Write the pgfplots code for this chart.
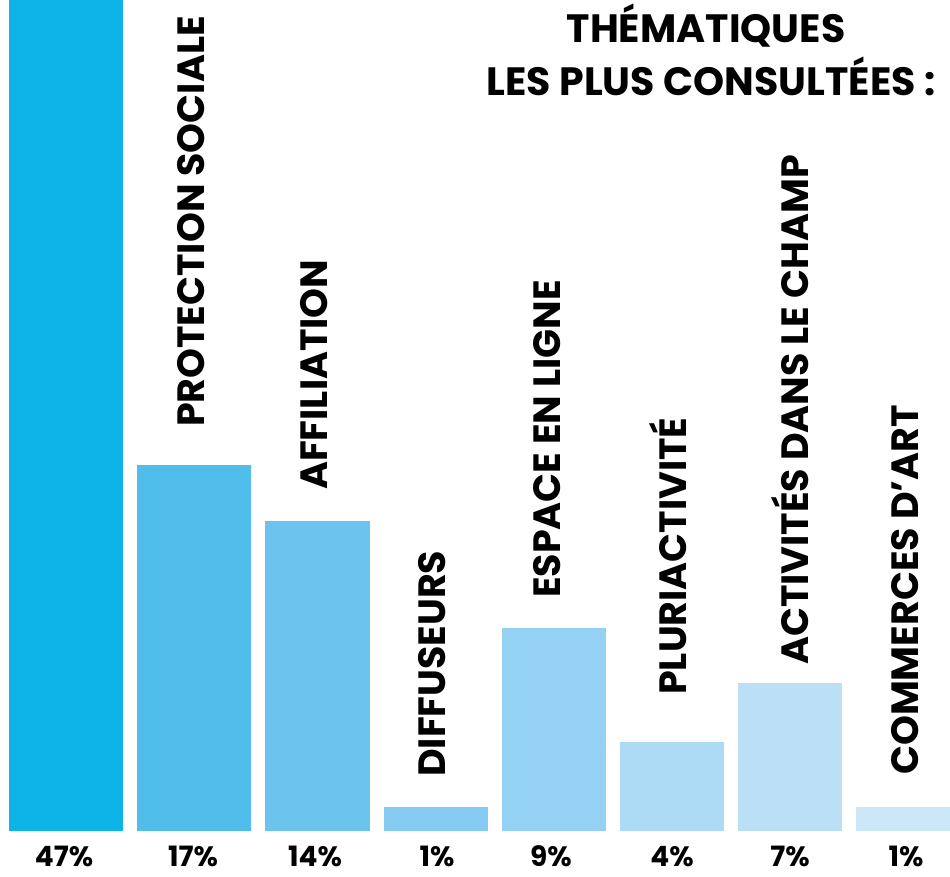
\documentclass[border=0pt]{standalone}
\usepackage{pgfplots}
\pgfplotsset{compat=1.18}
\usepackage{fontspec}
\setmainfont{Poppins}
\definecolor{c1}{HTML}{0EB4E8}
\definecolor{c2}{HTML}{50BDEB}
\definecolor{c3}{HTML}{6CC3EE}
\definecolor{c4}{HTML}{86CBF1}
\definecolor{c5}{HTML}{94D1F3}
\definecolor{c6}{HTML}{ADDAF4}
\definecolor{c7}{HTML}{BBE0F6}
\definecolor{c8}{HTML}{CCE8F8}
\newcommand{\lab}{\fontsize{38}{44}\selectfont\bfseries}
\newcommand{\ttl}{\fontsize{39.5}{46}\selectfont\bfseries}
\newcommand{\pct}{\fontsize{28}{32}\selectfont\bfseries}
\begin{document}
\begin{tikzpicture}
\useasboundingbox (0,0) rectangle (950pt,876pt);
\begin{axis}[
  scale only axis, width=950pt, height=876pt,
  xmin=0, xmax=950, ymin=-2.064, ymax=38.12,
  hide axis, clip=true,
]
\addplot[ybar, bar shift=0pt, bar width=114pt, fill=c1, draw=none] coordinates {(66,47)};
\addplot[ybar, bar shift=0pt, bar width=114pt, fill=c2, draw=none] coordinates {(194,16.8)};
\addplot[ybar, bar shift=0pt, bar width=105pt, fill=c3, draw=none] coordinates {(317.5,14.2)};
\addplot[ybar, bar shift=0pt, bar width=104pt, fill=c4, draw=none] coordinates {(436,1.1)};
\addplot[ybar, bar shift=0pt, bar width=104pt, fill=c5, draw=none] coordinates {(554,9.3)};
\addplot[ybar, bar shift=0pt, bar width=104pt, fill=c6, draw=none] coordinates {(672,4.1)};
\addplot[ybar, bar shift=0pt, bar width=104pt, fill=c7, draw=none] coordinates {(790,6.8)};
\addplot[ybar, bar shift=0pt, bar width=104pt, fill=c8, draw=none] coordinates {(908,1.1)};

\begin{scope}[every node/.style={rotate=90, anchor=west, inner sep=0pt, font=\lab}]
\node at (axis cs:191,18.53) {PROTECTION SOCIALE};
\node at (axis cs:314,15.64) {AFFILIATION};
\node at (axis cs:432,2.48) {DIFFUSEURS};
\node at (axis cs:547,10.69) {ESPACE EN LIGNE};
\node at (axis cs:668,6.24) {PLURIACTIVITÉ};
\node at (axis cs:790,7.61) {ACTIVITÉS DANS LE CHAMP};
\node at (axis cs:905,2.57) {COMMERCES D’ART};
\end{scope}

\node[anchor=base, inner sep=0pt, font=\ttl] at (axis cs:706,36.19) {THÉMATIQUES};
\node[anchor=base, inner sep=0pt, font=\ttl] at (axis cs:711,33.76) {LES PLUS CONSULTÉES :};

\begin{scope}[every node/.style={anchor=base, inner sep=0pt, font=\pct}]
\node at (axis cs:64,-1.62) {47\%};
\node at (axis cs:193,-1.62) {17\%};
\node at (axis cs:315,-1.62) {14\%};
\node at (axis cs:437,-1.62) {1\%};
\node at (axis cs:551,-1.62) {9\%};
\node at (axis cs:672,-1.62) {4\%};
\node at (axis cs:790,-1.62) {7\%};
\node at (axis cs:906,-1.62) {1\%};
\end{scope}
\end{axis}
\end{tikzpicture}
\end{document}
